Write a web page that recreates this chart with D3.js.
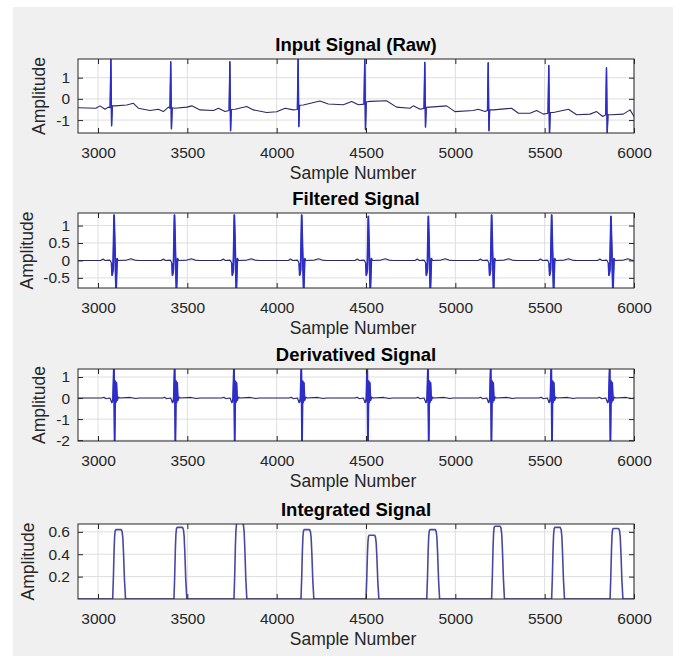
<!DOCTYPE html>
<html>
<head>
<meta charset="utf-8">
<script src="https://cdn.jsdelivr.net/npm/d3@7"></script>
<style>
  body { margin: 0; background: #fff; }
  svg { display: block; font-family: "Liberation Sans", Arial, sans-serif; }
</style>
</head>
<body>
<svg id="chart"></svg>
<script>
// x axis ticks (sample numbers)
const xTicks = [3000, 3500, 4000, 4500, 5000, 5500, 6000];

// Raw signal: baseline wander [sample, amplitude]
const rawBase = [
  [2888, -0.42], [2940, -0.43], [2988, -0.44], [3011, -0.33], [3039, -0.49], [3058, -0.39], [3068, -0.42],
  [3080, -0.33], [3095, -0.33], [3161, -0.29], [3198, -0.21], [3226, -0.44], [3291, -0.55], [3338, -0.49],
  [3366, -0.6], [3394, -0.39], [3403, -0.45],
  [3415, -0.42], [3431, -0.44], [3497, -0.39], [3525, -0.33], [3571, -0.52], [3646, -0.55], [3674, -0.44],
  [3711, -0.6], [3734, -0.55],
  [3746, -0.5], [3767, -0.49], [3832, -0.36], [3870, -0.52], [3944, -0.64], [4000, -0.61], [4047, -0.44],
  [4093, -0.52], [4116, -0.5],
  [4128, -0.3], [4149, -0.29], [4242, -0.1], [4289, -0.24], [4373, -0.28], [4420, -0.12], [4457, -0.28],
  [4489, -0.25],
  [4501, -0.15], [4522, -0.12], [4615, -0.09], [4671, -0.39], [4746, -0.44], [4765, -0.33], [4802, -0.49],
  [4825, -0.45],
  [4837, -0.4], [4858, -0.39], [4951, -0.33], [4998, -0.6], [5100, -0.55], [5128, -0.49], [5166, -0.6],
  [5180, -0.55],
  [5192, -0.52], [5213, -0.52], [5315, -0.44], [5353, -0.68], [5418, -0.68], [5455, -0.55], [5493, -0.72],
  [5519, -0.68],
  [5531, -0.64], [5549, -0.64], [5633, -0.49], [5679, -0.75], [5754, -0.72], [5791, -0.6], [5825, -0.83],
  [5842, -0.75],
  [5854, -0.75], [5875, -0.75], [5940, -0.72], [5978, -0.52], [6000, -0.83]
];
// Raw R peaks: position, peak and trough
const rawR = [3073, 3408, 3739, 4121, 4494, 4830, 5185, 5524, 5847];
const rawPeak = [1.95, 1.75, 1.75, 1.95, 1.95, 1.72, 1.7, 1.57, 1.47];
const rawTrough = [-1.27, -1.41, -1.5, -1.3, -1.45, -1.33, -1.5, -1.65, -1.65];

// Filtered signal: beat positions, peak heights, beat shape [offset, amplitude] (null = peak)
const filtR = [3090, 3428, 3763, 4140, 4513, 4849, 5203, 5539, 5871];
const filtPeak = [1.3, 1.3, 1.3, 1.3, 1.26, 1.26, 1.3, 1.3, 1.26];
const filtShape = [
  [-75, 0], [-62, 0.04], [-50, 0], [-24, 0.01], [-14, -0.08], [-11, -0.42], [-6, -0.28], [0, null],
  [11, -0.9], [17, 0.06], [24, 0], [70, 0.01], [95, 0.05], [115, 0.01], [140, 0]
];

// Derivative signal: beat positions and beat shape [offset, amplitude]
const derivR = [3091, 3431, 3763, 4140, 4509, 4849, 5200, 5539, 5866];
const derivShape = [
  [-70, 0], [-58, 0.04], [-48, -0.03], [-24, 0], [-14, -0.22], [-7, -0.05], [-2, 1.6], [2, -2.2],
  [6, 0.8], [9, -0.2], [12, 0.72], [16, -0.1], [22, 0.05], [30, 0], [90, 0.03], [120, -0.02], [140, 0]
];

// Integrated signal: hump onsets, heights and shape [offset, fraction of height]
const intStart = [3082, 3425, 3761, 4136, 4500, 4840, 5203, 5539, 5866];
const intHeight = [0.62, 0.64, 0.68, 0.62, 0.57, 0.62, 0.65, 0.64, 0.63];
const intShape = [
  [0, 0], [4, 0.3], [8, 0.7], [11, 0.9], [14, 0.98], [18, 1], [48, 1], [53, 0.97], [57, 0.88],
  [61, 0.65], [66, 0.28], [72, 0]
];

const W = 678, H = 656;
const byX = (a, b) => a[0] - b[0];

// build the series
const rawSeries = rawBase
  .concat(rawR.flatMap((r, i) => [[r - 1, rawPeak[i]], [r + 3, rawTrough[i]]]))
  .sort(byX);
const filtSeries = [[2888, 0], [6000, 0]]
  .concat(filtR.flatMap((r, i) => filtShape.map(([dx, v]) => [r + dx, v === null ? filtPeak[i] : v])))
  .sort(byX);
const derivSeries = [[2888, 0], [6000, 0]]
  .concat(derivR.flatMap(r => derivShape.map(([dx, v]) => [r + dx, v])))
  .sort(byX);
const intSeries = [[2888, 0], [6000, 0]]
  .concat(intStart.flatMap((s, i) => intShape.map(([dx, f]) => [s + dx, f * intHeight[i]])))
  .sort(byX);

const panels = [
  { title: 'Input Signal (Raw)', data: rawSeries, beats: rawR, win: [-6, 8], y: [-1.61, 1.88], ticks: [-1, 0, 1], top: 59, bottom: 133, labelX: 45 },
  { title: 'Filtered Signal', data: filtSeries, beats: filtR, win: [-16, 20], y: [-0.79, 1.36], ticks: [-0.5, 0, 0.5, 1], top: 213, bottom: 288, labelX: 33 },
  { title: 'Derivatived Signal', data: derivSeries, beats: derivR, win: [-16, 24], y: [-2.04, 1.38], ticks: [-2, -1, 0, 1], top: 369, bottom: 441, labelX: 45 },
  { title: 'Integrated Signal', data: intSeries, beats: [], win: [0, 0], y: [0, 0.67], ticks: [0.2, 0.4, 0.6], top: 524, bottom: 599, labelX: 34 }
];

const svg = d3.select('#chart').attr('width', W).attr('height', H);
svg.append('rect').attr('width', W).attr('height', H).attr('fill', '#fff');
svg.append('rect').attr('x', 13).attr('y', 7).attr('width', 660).attr('height', H - 7).attr('fill', '#f0f0f0');

const left = 78, right = 634;
const x = d3.scaleLinear().domain([2888, 6000]).range([left, right]);

panels.forEach((p, k) => {
  const y = d3.scaleLinear().domain(p.y).range([p.bottom, p.top]);
  const g = svg.append('g');

  g.append('rect')
    .attr('x', left).attr('y', p.top)
    .attr('width', right - left).attr('height', p.bottom - p.top)
    .attr('fill', '#fff');

  // grid
  g.selectAll('.gx').data(xTicks).enter().append('line')
    .attr('x1', d => x(d)).attr('x2', d => x(d))
    .attr('y1', p.top).attr('y2', p.bottom)
    .attr('stroke', '#dedede');
  g.selectAll('.gy').data(p.ticks).enter().append('line')
    .attr('x1', left).attr('x2', right)
    .attr('y1', d => y(d)).attr('y2', d => y(d))
    .attr('stroke', '#dedede');

  // signal
  const clipId = 'clip' + k;
  g.append('clipPath').attr('id', clipId).append('rect')
    .attr('x', left).attr('y', p.top)
    .attr('width', right - left).attr('height', p.bottom - p.top);

  const line = d3.line().x(d => x(d[0])).y(d => y(d[1]));
  const plot = g.append('g').attr('clip-path', `url(#${clipId})`);
  plot.append('path')
    .attr('d', line(p.data))
    .attr('fill', 'none')
    .attr('stroke', k === 3 ? '#4848a0' : '#2a2a66')
    .attr('stroke-width', k === 3 ? 1.6 : 1.1)
    .attr('stroke-linejoin', 'round');

  // QRS complexes look brighter blue
  p.beats.forEach(r => {
    const seg = p.data.filter(d => d[0] >= r + p.win[0] && d[0] <= r + p.win[1]);
    plot.append('path')
      .attr('d', line(seg))
      .attr('fill', 'none')
      .attr('stroke', '#2d2dc8')
      .attr('stroke-width', k === 0 ? 1.4 : 1.8)
      .attr('stroke-linejoin', 'round');
  });

  // axes (ticks point inward)
  const fmt = d => String(d);
  const bottomAx = g.append('g').attr('transform', `translate(0,${p.bottom})`)
    .call(d3.axisBottom(x).tickValues(xTicks).tickSize(-5).tickPadding(14).tickFormat(d3.format('d')));
  g.append('g').attr('transform', `translate(0,${p.top})`)
    .call(d3.axisTop(x).tickValues(xTicks).tickSize(-5).tickFormat(''));
  const leftAx = g.append('g').attr('transform', `translate(${left},0)`)
    .call(d3.axisLeft(y).tickValues(p.ticks).tickSize(-5).tickPadding(8).tickFormat(fmt));
  g.append('g').attr('transform', `translate(${right},0)`)
    .call(d3.axisRight(y).tickValues(p.ticks).tickSize(-5).tickFormat(''));

  g.selectAll('.domain').remove();
  g.selectAll('.tick line').attr('stroke', '#262626');
  [bottomAx, leftAx].forEach(a => a.selectAll('text')
    .attr('fill', '#262626')
    .style('font-size', '15.5px')
    .style('font-family', '"Liberation Sans", Arial, sans-serif'));

  // box
  g.append('rect')
    .attr('x', left).attr('y', p.top)
    .attr('width', right - left).attr('height', p.bottom - p.top)
    .attr('fill', 'none').attr('stroke', '#262626').attr('stroke-width', 1);

  // title and labels
  g.append('text')
    .attr('x', (left + right) / 2).attr('y', p.top - 8)
    .attr('text-anchor', 'middle')
    .style('font-size', '18.5px').style('font-weight', 'bold')
    .attr('fill', '#000')
    .text(p.title);

  g.append('text')
    .attr('x', (left + right) / 2 - 3).attr('y', p.bottom + 46)
    .attr('text-anchor', 'middle')
    .style('font-size', '17.5px')
    .attr('fill', '#262626')
    .text('Sample Number');

  g.append('text')
    .attr('transform', `translate(${p.labelX},${(p.top + p.bottom) / 2}) rotate(-90)`)
    .attr('text-anchor', 'middle')
    .style('font-size', '17.5px')
    .attr('fill', '#262626')
    .text('Amplitude');
});
</script>
</body>
</html>
